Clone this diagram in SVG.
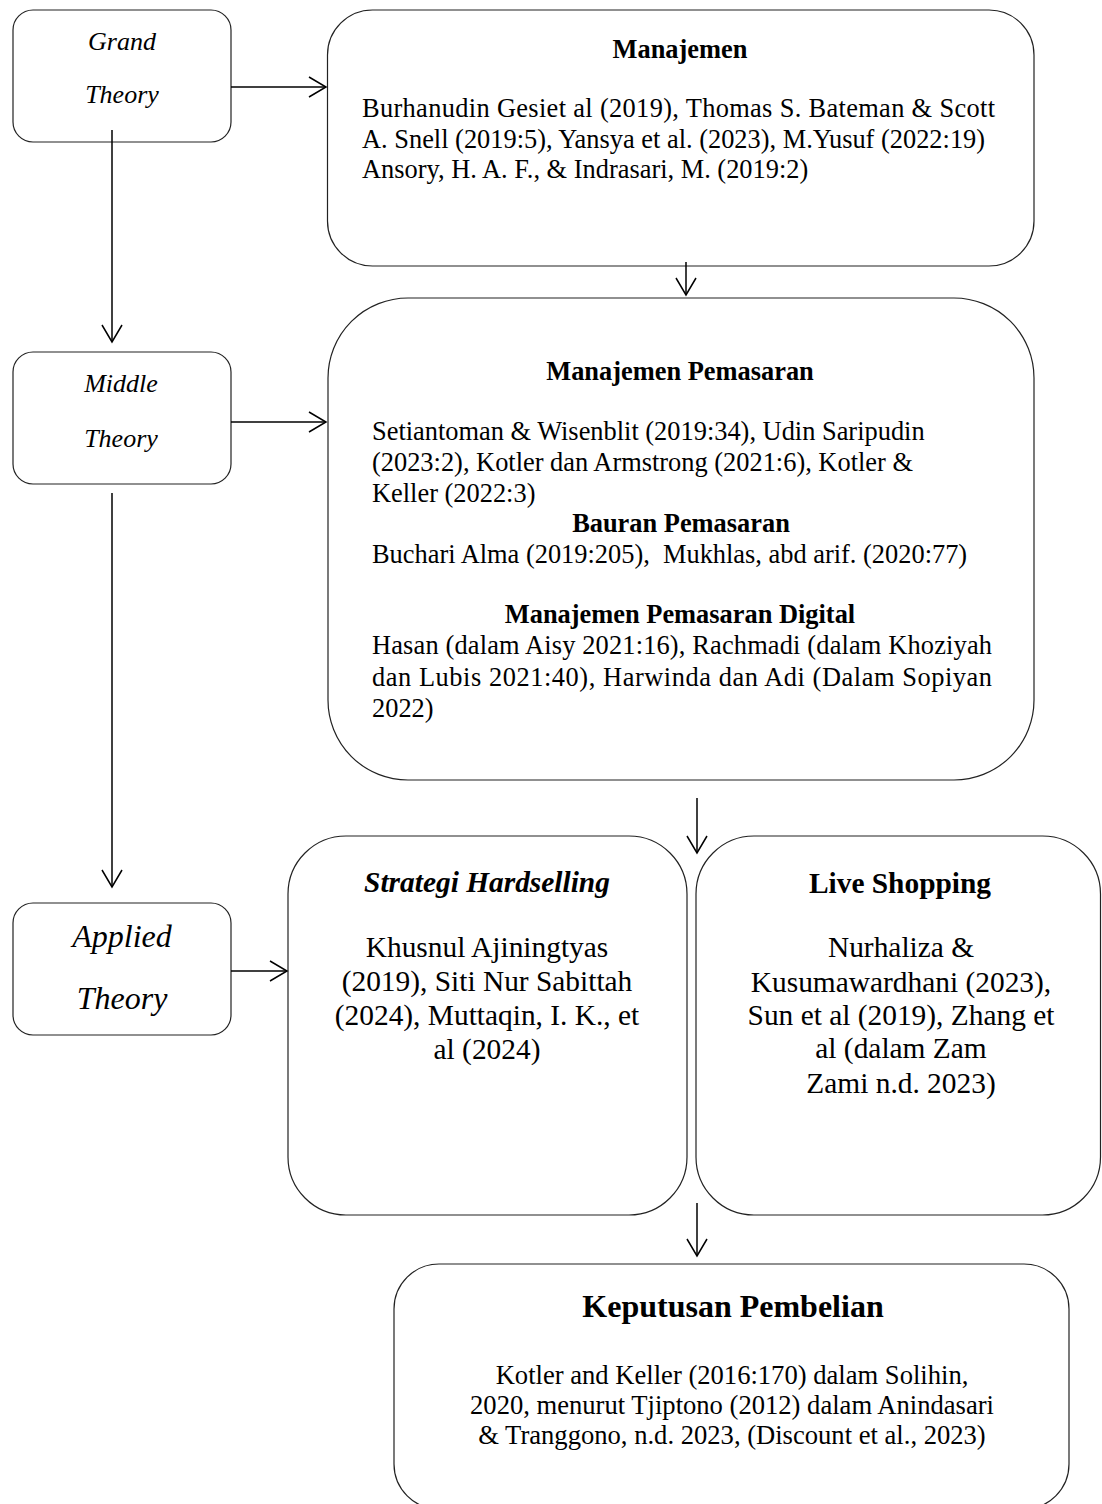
<svg xmlns="http://www.w3.org/2000/svg" width="1102" height="1504" viewBox="0 0 1102 1504">
<style>
.box{fill:#fff;stroke:#222;stroke-width:1.2}
.t{font-family:"Liberation Serif","Times New Roman",serif;fill:#000}
.b{font-weight:bold}
.i{font-style:italic}
.c{text-anchor:middle}
.s{font-size:26.4px}
.m{font-size:29.4px}
.con line{stroke:#000;stroke-width:1.5;marker-end:url(#ah)}
</style>
<defs>
<marker id="ah" markerUnits="userSpaceOnUse" markerWidth="24" markerHeight="24" viewBox="-20 -12 24 24" refX="0" refY="0" orient="auto">
<path d="M-17,-10 L0,0 L-17,10" fill="none" stroke="#000" stroke-width="1.5"/>
</marker>
</defs>
<rect width="1102" height="1504" fill="#fff"/>

<g id="grand">
<rect class="box" x="13" y="10" width="218" height="132" rx="20"/>
<text class="t i c" x="122" y="50" font-size="26">Grand</text>
<text class="t i c" x="122" y="103" font-size="26">Theory</text>
</g>

<g id="middle">
<rect class="box" x="13" y="352" width="218" height="132" rx="20"/>
<text class="t i c" x="121" y="392" font-size="26">Middle</text>
<text class="t i c" x="121" y="447" font-size="26">Theory</text>
</g>

<g id="applied">
<rect class="box" x="13" y="903" width="218" height="132" rx="20"/>
<text class="t i c" x="122" y="947" font-size="32">Applied</text>
<text class="t i c" x="122" y="1009" font-size="32">Theory</text>
</g>

<g id="manajemen">
<rect class="box" x="327.5" y="10" width="706.5" height="256" rx="45"/>
<text class="t b c s" x="680" y="58">Manajemen</text>
<text class="t s" x="362" y="117" textLength="633" lengthAdjust="spacing">Burhanudin Gesiet al (2019), Thomas S. Bateman &amp; Scott</text>
<text class="t s" x="362" y="148">A. Snell (2019:5), Yansya et al. (2023), M.Yusuf (2022:19)</text>
<text class="t s" x="362" y="178">Ansory, H. A. F., &amp; Indrasari, M. (2019:2)</text>
</g>

<g id="manajemen-pemasaran">
<rect class="box" x="328" y="298" width="706" height="482" rx="80"/>
<text class="t b c s" x="680" y="380">Manajemen Pemasaran</text>
<text class="t s" x="372" y="440">Setiantoman &amp; Wisenblit (2019:34), Udin Saripudin</text>
<text class="t s" x="372" y="471">(2023:2), Kotler dan Armstrong (2021:6), Kotler &amp;</text>
<text class="t s" x="372" y="502">Keller (2022:3)</text>
<text class="t b c s" x="681" y="532">Bauran Pemasaran</text>
<text class="t s" x="372" y="563" xml:space="preserve">Buchari Alma (2019:205),  Mukhlas, abd arif. (2020:77)</text>
<text class="t b c s" x="680" y="623">Manajemen Pemasaran Digital</text>
<text class="t s" x="372" y="654" textLength="620" lengthAdjust="spacing">Hasan (dalam Aisy 2021:16), Rachmadi (dalam Khoziyah</text>
<text class="t s" x="372" y="686" textLength="620" lengthAdjust="spacing">dan Lubis 2021:40), Harwinda dan Adi (Dalam Sopiyan</text>
<text class="t s" x="372" y="717">2022)</text>
</g>

<g id="strategi-hardselling">
<rect class="box" x="288" y="836" width="399" height="379" rx="58"/>
<text class="t b i c m" x="487" y="892">Strategi Hardselling</text>
<text class="t c m" x="487" y="957">Khusnul Ajiningtyas</text>
<text class="t c m" x="487" y="991">(2019), Siti Nur Sabittah</text>
<text class="t c m" x="487" y="1025">(2024), Muttaqin, I. K., et</text>
<text class="t c m" x="487" y="1059">al (2024)</text>
</g>

<g id="live-shopping">
<rect class="box" x="696" y="836" width="404.5" height="379" rx="58"/>
<text class="t b c m" x="900" y="893">Live Shopping</text>
<text class="t c m" x="901" y="957">Nurhaliza &amp;</text>
<text class="t c m" x="901" y="992">Kusumawardhani (2023),</text>
<text class="t c m" x="901" y="1025">Sun et al (2019), Zhang et</text>
<text class="t c m" x="901" y="1058">al (dalam Zam</text>
<text class="t c m" x="901" y="1093">Zami n.d. 2023)</text>
</g>

<g id="keputusan-pembelian">
<rect class="box" x="394" y="1264" width="675" height="245" rx="45"/>
<text class="t b c" x="733" y="1317" font-size="32">Keputusan Pembelian</text>
<text class="t c" x="732" y="1384" font-size="26.6">Kotler and Keller (2016:170) dalam Solihin,</text>
<text class="t c" x="732" y="1414" font-size="26.6">2020, menurut Tjiptono (2012) dalam Anindasari</text>
<text class="t c" x="732" y="1444" font-size="26.6">&amp; Tranggono, n.d. 2023, (Discount et al., 2023)</text>
</g>

<g id="connectors" class="con">
<line x1="231" y1="87" x2="326" y2="87"/>
<line x1="686" y1="262" x2="686" y2="295"/>
<line x1="112" y1="130" x2="112" y2="342"/>
<line x1="231" y1="422" x2="326" y2="422"/>
<line x1="112" y1="493" x2="112" y2="887"/>
<line x1="231" y1="971" x2="287" y2="971"/>
<line x1="697" y1="798" x2="697" y2="853"/>
<line x1="697" y1="1203" x2="697" y2="1256"/>
</g>
</svg>
